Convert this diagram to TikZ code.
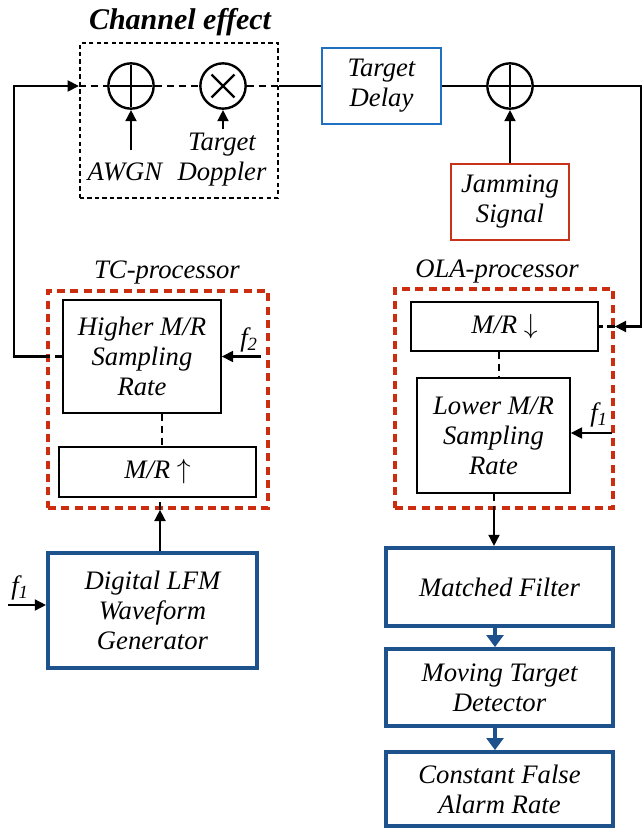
\documentclass[tikz,border=0pt]{standalone}
\usepackage{fontspec}
\setmainfont{Liberation Serif}
\usetikzlibrary{arrows.meta,calc}
\definecolor{tdblue}{RGB}{31,112,193}
\definecolor{dkblue}{RGB}{30,82,140}
\definecolor{jred}{RGB}{200,50,25}
\definecolor{dred}{RGB}{205,45,15}
\newcommand\fsub[1]{f\textsubscript{#1}}
\begin{document}
\begin{tikzpicture}[x=0.75pt,y=-0.75pt,
  every node/.style={font=\fontsize{20}{22.5}\selectfont\itshape, align=center, inner sep=0pt},
  sz/.style 2 args={minimum width=#1*0.75pt, minimum height=#2*0.75pt},
  thinbox/.style={draw, line width=1.1pt},
  bluebox/.style={draw=dkblue, line width=2.8pt},
  reddash/.style={draw=dred, line width=2.5pt, dash pattern=on 6pt off 4pt},
  wire/.style={line width=2.1pt},
  tip/.style={-{Triangle[length=8.5pt,width=8pt]}},
  dwire/.style={line width=2.1pt, dash pattern=on 5.5pt off 3.5pt},
  sumnode/.style={circle, draw, line width=1.8pt, minimum size=34pt},
  xline/.style={line width=1.8pt},
  bluearrow/.style={dkblue, line width=2.8pt, -{Triangle[length=9pt,width=12.5pt]}}
]
\useasboundingbox (0,0) rectangle (643,828);

% Channel effect
\node[sz={198}{155}, draw, line width=1.5pt, dash pattern=on 3.2pt off 2.4pt] (ch) at (179,120.5) {};
\node[font=\fontsize{22.5}{26}\selectfont\bfseries\itshape] (cht) at (180,22) {Channel effect};
\node[sumnode] (s1) at (131,86) {};
\node[sumnode] (m1) at (223,86) {};
\draw[xline] ($(s1.center)!0.88!(s1.north)$) -- ($(s1.center)!0.88!(s1.south)$);
\draw[xline] ($(s1.center)!0.88!(s1.west)$) -- ($(s1.center)!0.88!(s1.east)$);
\draw[xline] ($(m1.center)!0.68!(m1.north west)$) -- ($(m1.center)!0.68!(m1.south east)$);
\draw[xline] ($(m1.center)!0.68!(m1.north east)$) -- ($(m1.center)!0.68!(m1.south west)$);
\node (awgn) at (125,172) {AWGN};
\node (dop) at (222,160) {Target\\Doppler};
\node[sz={119}{76}, draw=tdblue, line width=1.9pt] (delay) at (381.5,86) {Target\\Delay};
\node[sumnode] (s2) at (510,86) {};
\draw[xline] ($(s2.center)!0.88!(s2.north)$) -- ($(s2.center)!0.88!(s2.south)$);
\draw[xline] ($(s2.center)!0.88!(s2.west)$) -- ($(s2.center)!0.88!(s2.east)$);
\node[sz={118}{76}, draw=jred, line width=1.9pt] (jam) at (510,202) {Jamming\\Signal};

% TC-processor
\node (tcl) at (167,273) {TC-processor};
\node[sz={220}{217}, reddash] (tc) at (158,399.5) {};
\node[sz={158}{113}, thinbox] (hi) at (142,356.5) {Higher M/R\\Sampling\\Rate};
\node[sz={197}{50}, thinbox] (mru) at (157.5,472) {M/R $\uparrow$};
\node[sz={209}{115}, bluebox] (lfm) at (152.5,610.5) {Digital LFM\\Waveform\\Generator};
\node (f2) at (249,340) {\fsub{2}};
\node (f1a) at (20,588) {\fsub{1}};

% OLA-processor
\node (olal) at (497,272) {OLA-processor};
\node[sz={218}{219}, reddash] (ola) at (504,398.5) {};
\node[sz={187}{49}, thinbox] (mrd) at (504.5,326.5) {M/R $\downarrow$};
\node[sz={153}{115}, thinbox] (lo) at (493.5,435.5) {Lower M/R\\Sampling\\Rate};
\node (f1b) at (599,415) {\fsub{1}};
\node[sz={227}{78}, bluebox] (mf) at (499.5,587) {Matched Filter};
\node[sz={227}{77}, bluebox] (mtd) at (499.5,687.5) {Moving Target\\Detector};
\node[sz={227}{74}, bluebox] (cfar) at (499.5,789) {Constant False\\Alarm Rate};

% coordinates
\coordinate (awgnA) at (131,150);
\coordinate (dopA) at (223,129);
\coordinate (rc2) at (641,326.5);
\coordinate (tv) at (162,0);
\coordinate (uv) at (160,0);
\coordinate (f2s) at (261,356.5);
\coordinate (f1s) at (8,605);
\coordinate (ov) at (499,0);
\coordinate (dv) at (494,0);
\coordinate (f1bs) at (612,433);
\coordinate (bv) at (495,0);

% channel wires
\draw[dwire] (hi.west) -- (tc.west |- hi.west);
\draw[wire, tip] (tc.west |- hi.west) -| (14,86) -- (ch.west |- s1.west);
\draw[dwire] (ch.west |- s1.west) -- (s1.west);
\draw[dwire] (s1.east) -- (m1.west);
\draw[dwire] (m1.east) -- (ch.east |- m1.east);
\draw[wire] (ch.east |- m1.east) -- (delay.west);
\draw[wire] (delay.east) -- (s2.west);
\draw[wire, tip] (s2.east) -| (rc2) -- (ola.east |- mrd.east);
\draw[dwire] (ola.east |- mrd.east) -- (mrd.east);
\draw[wire, tip] (awgnA) -- (s1.south);
\draw[wire, tip] (dopA) -- (m1.south);
\draw[wire, tip] (jam.north) -- (s2.south);

% TC wires
\draw[dwire] (hi.south -| tv) -- (mru.north -| tv);
\draw[wire, tip] (f2s) -- (hi.east);
\draw[wire, tip] (lfm.north -| uv) -- (tc.south -| uv);
\draw[dwire] (tc.south -| uv) -- (mru.south -| uv);
\draw[wire, tip] (f1s) -- (lfm.west |- f1s);

% OLA wires
\draw[dwire] (mrd.south -| ov) -- (lo.north -| ov);
\draw[wire, tip] (f1bs) -- (lo.east |- f1bs);
\draw[dwire] (lo.south -| dv) -- (ola.south -| dv);
\draw[wire, tip] (ola.south -| dv) -- (mf.north -| dv);
\draw[bluearrow] (mf.south -| bv) -- (mtd.north -| bv);
\draw[bluearrow] (mtd.south -| bv) -- (cfar.north -| bv);
\end{tikzpicture}
\end{document}
